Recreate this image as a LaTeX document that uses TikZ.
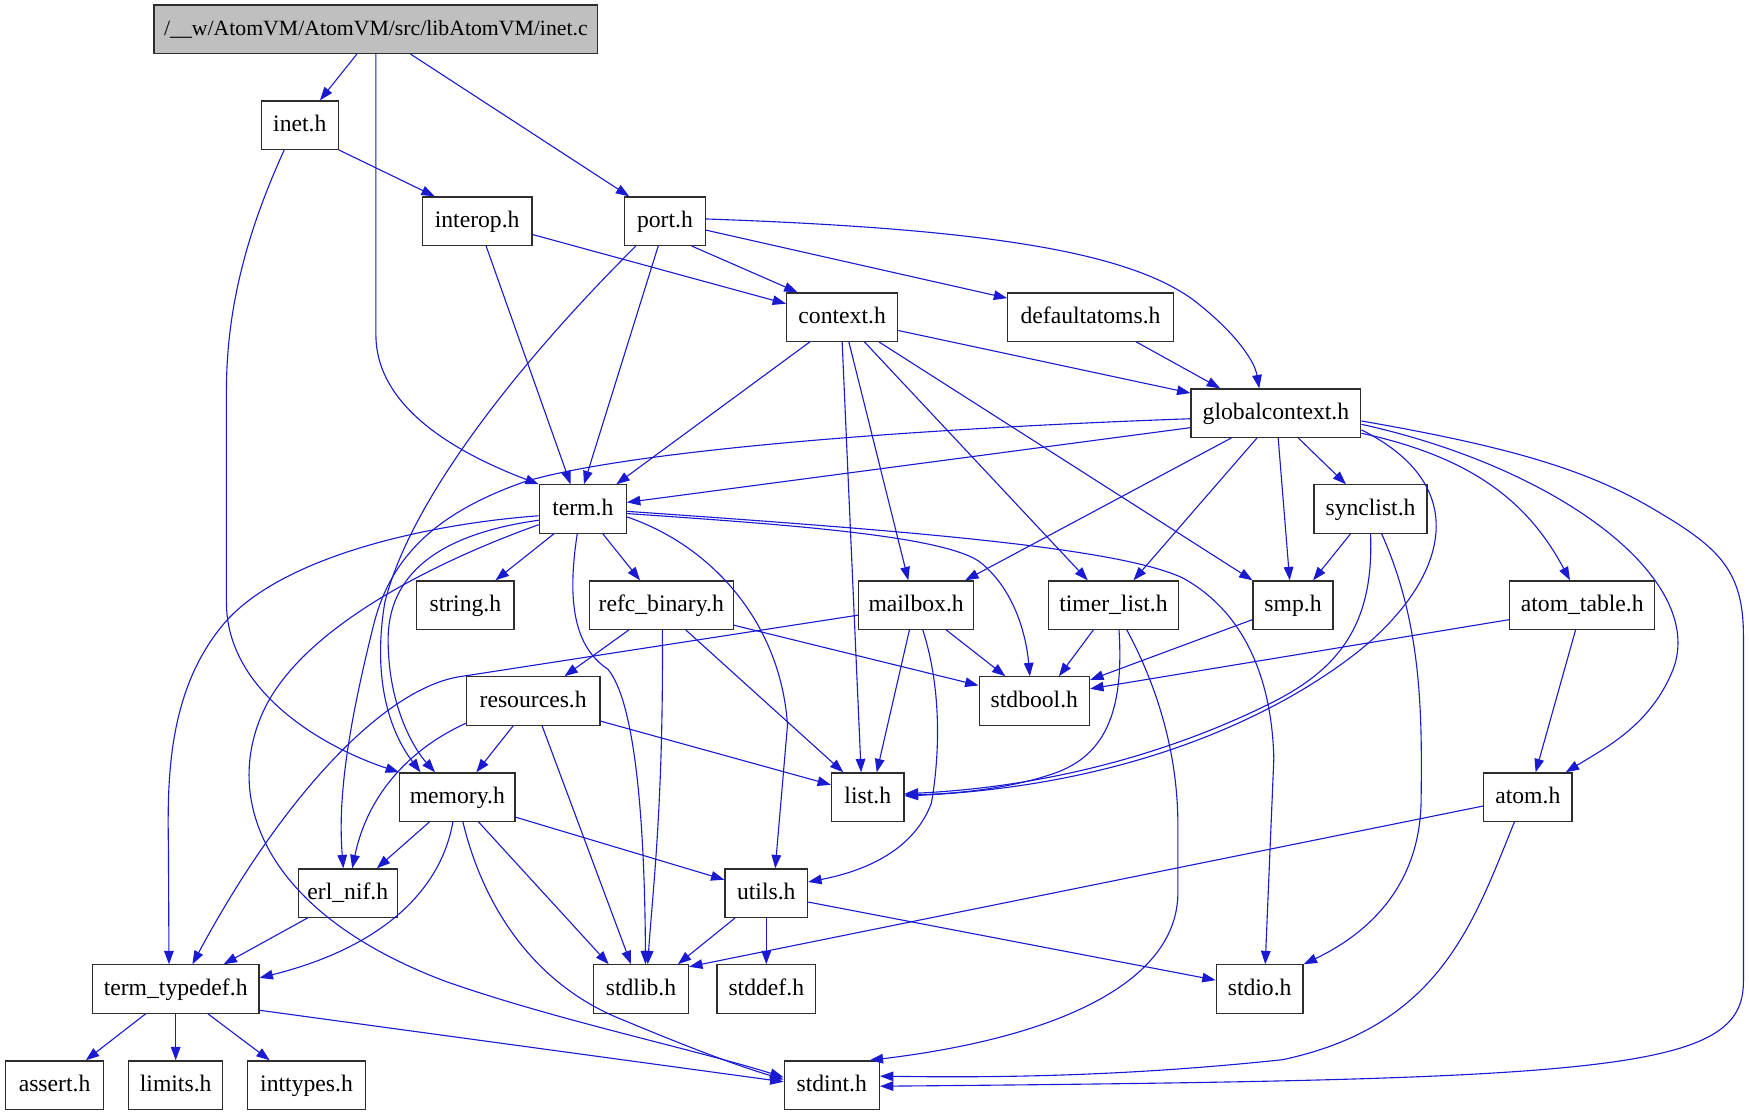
\documentclass[tikz,border=0pt]{standalone}
\usepackage{fontspec}
\setmainfont{Liberation Serif}
\usetikzlibrary{arrows.meta,calc}
\definecolor{eblue}{RGB}{26,26,210}
\definecolor{bord}{RGB}{45,45,45}
\definecolor{rootfill}{RGB}{191,191,191}
\tikzset{
  hdr/.style={draw=bord, line width=0.55pt, minimum height=21.7pt, inner sep=0pt,
    font=\fontsize{10.6}{12}\selectfont, text height=7pt, text depth=1.6pt, fill=white},
  rootbox/.style={hdr, fill=rootfill, font=\fontsize{9.75}{12}\selectfont},
  edge/.style={draw=eblue, line width=0.5pt, -{Triangle[length=6pt,width=4.3pt,fill=eblue]}}
}
\begin{document}
\begin{tikzpicture}[x=0.5pt,y=-0.5pt]
\useasboundingbox (0,0) rectangle (1568,1000);
% nodes
\node[rootbox, minimum width=199pt] (inetc) at (337,26.2) {/\_\_w/AtomVM/AtomVM/src/libAtomVM/inet.c};
\node[hdr, minimum width=34.5pt] (ineth) at (268.8,112.2) {inet.h};
\node[hdr, minimum width=49.2pt] (interop) at (427.8,198.3) {interop.h};
\node[hdr, minimum width=36.2pt] (port) at (596.1,198.3) {port.h};
\node[hdr, minimum width=49.8pt] (context) at (755,284.3) {context.h};
\node[hdr, minimum width=74.2pt] (defaultatoms) at (977.7,284.3) {defaultatoms.h};
\node[hdr, minimum width=76.1pt] (gctx) at (1143.9,370.4) {globalcontext.h};
\node[hdr, minimum width=39pt] (term) at (522.5,456.4) {term.h};
\node[hdr, minimum width=50.7pt] (synclist) at (1228.7,456.4) {synclist.h};
\node[hdr, minimum width=43.6pt] (string) at (417.2,542.5) {string.h};
\node[hdr, minimum width=64.6pt] (refc) at (592.8,542.5) {refc\_binary.h};
\node[hdr, minimum width=51.5pt] (mailbox) at (821.3,542.5) {mailbox.h};
\node[hdr, minimum width=58.5pt] (timer) at (998.2,542.5) {timer\_list.h};
\node[hdr, minimum width=35.8pt] (smp) at (1159.2,542.5) {smp.h};
\node[hdr, minimum width=64.9pt] (atomtable) at (1418.5,542.5) {atom\_table.h};
\node[hdr, minimum width=59.9pt] (resources) at (478,628.5) {resources.h};
\node[hdr, minimum width=49.5pt] (stdbool) at (927.3,628.5) {stdbool.h};
\node[hdr, minimum width=51.7pt] (memory) at (410,714.6) {memory.h};
\node[hdr, minimum width=32.5pt] (list) at (778,714.6) {list.h};
\node[hdr, minimum width=39.5pt] (atom) at (1369.7,714.6) {atom.h};
\node[hdr, minimum width=44.4pt] (erlnif) at (311.8,800.7) {erl\_nif.h};
\node[hdr, minimum width=37pt] (utils) at (687,800.7) {utils.h};
\node[hdr, minimum width=74.6pt] (termtypedef) at (157.5,886.7) {term\_typedef.h};
\node[hdr, minimum width=42.5pt] (stdlib) at (574.7,886.7) {stdlib.h};
\node[hdr, minimum width=44.2pt] (stddef) at (687,886.7) {stddef.h};
\node[hdr, minimum width=38.9pt] (stdio) at (1129.3,886.7) {stdio.h};
\node[hdr, minimum width=43.7pt] (assert) at (48.9,972.8) {assert.h};
\node[hdr, minimum width=42.2pt] (limits) at (157.5,972.8) {limits.h};
\node[hdr, minimum width=53pt] (inttypes) at (274.8,972.8) {inttypes.h};
\node[hdr, minimum width=42.7pt] (stdint) at (745.7,972.8) {stdint.h};
% edges from inet.c
\draw[edge] ($(inetc.south)+(-17,0)$) -- ($(ineth.north)+(18,0)$);
\draw[edge] (inetc.south) -- (337,300) .. controls (337,370) and (420,410) .. (term.north west);
\draw[edge] ($(inetc.south)+(31,0)$) -- ($(port.north)+(-32,0)$);
% inet.h
\draw[edge] (ineth.south east) -- ($(interop.north)+(-38,0)$);
\draw[edge] ($(ineth.south)+(-14,0)$) .. controls (225,200) and (203,270) .. (203,350) -- (203,540) .. controls (203,620) and (290,670) .. (memory.north west);
% interop.h
\draw[edge] ($(interop.east)+(0,12)$) -- ($(context.west)+(0,-12)$);
\draw[edge] ($(interop.south)+(8,0)$) -- ($(term.north)+(-11,0)$);
% port.h
\draw[edge] ($(port.south)+(24,0)$) -- ($(context.north)+(-40,0)$);
\draw[edge] ($(port.east)+(0,8)$) -- ($(defaultatoms.west)+(0,-17)$);
\draw[edge] ($(port.east)+(0,-2)$) .. controls (880,205) and (1010,225) .. (1070,269) .. controls (1110,300) and (1125,325) .. ($(gctx.north)+(-15,0)$);
\draw[edge] ($(port.south)+(-6,0)$) -- ($(term.north)+(1,0)$);
\draw[edge] ($(port.south)+(-26,0)$) .. controls (480,310) and (370,440) .. (345,540) .. controls (335,600) and (345,650) .. ($(memory.north)+(-33,0)$);
% context.h
\draw[edge] ($(context.east)+(0,12)$) -- ($(gctx.west)+(0,-18)$);
\draw[edge] ($(context.south)+(-29,0)$) -- ($(term.north)+(30,0)$);
\draw[edge] (context.south) -- ($(list.north)+(-6,0)$);
\draw[edge] ($(context.south)+(6,0)$) -- ($(mailbox.north)+(-7,0)$);
\draw[edge] ($(context.south)+(20,0)$) -- ($(timer.north)+(-23,0)$);
\draw[edge] ($(context.south)+(33,0)$) -- (smp.north west);
% defaultatoms.h
\draw[edge] ($(defaultatoms.south)+(41,0)$) -- ($(gctx.north)+(-50,0)$);
% globalcontext.h
\draw[edge] ($(gctx.west)+(0,13)$) -- ($(term.east)+(0,-6)$);
\draw[edge] ($(gctx.west)+(0,5)$) .. controls (800,385) and (560,405) .. (470,432) .. controls (390,460) and (350,500) .. (335,560) .. controls (310,660) and (303,720) .. ($(erlnif.north)+(-4,0)$);
\draw[edge] ($(gctx.south)+(-40,0)$) -- ($(mailbox.north)+(44,0)$);
\draw[edge] ($(gctx.south)+(-17,0)$) -- ($(timer.north)+(18,0)$);
\draw[edge] ($(gctx.south)+(2,0)$) -- ($(smp.north)+(-3,0)$);
\draw[edge] ($(gctx.south)+(20,0)$) -- ($(synclist.north)+(-22,0)$);
\draw[edge] ($(gctx.east)+(0,15)$) .. controls (1330,440) and (1290,530) .. (1210,590) .. controls (1130,650) and (1000,705) .. ($(list.east)+(0,-1)$);
\draw[edge] ($(gctx.east)+(0,18)$) .. controls (1320,410) and (1370,450) .. ($(atomtable.north)+(-11,0)$);
\draw[edge] ($(gctx.east)+(0,10)$) .. controls (1400,420) and (1530,520) .. (1500,600) .. controls (1480,650) and (1440,670) .. ($(atom.north)+(34,0)$);
\draw[edge] ($(gctx.east)+(0,7)$) .. controls (1350,400) and (1420,420) .. (1480,455) .. controls (1540,490) and (1563,510) .. (1563,570) -- (1563,880) .. controls (1563,960) and (1450,968) .. ($(stdint.east)+(0,1)$);
% term.h
\draw[edge] ($(term.south)+(-26,0)$) -- ($(string.north)+(27,0)$);
\draw[edge] ($(term.south)+(18,0)$) -- ($(refc.north)+(-19,0)$);
\draw[edge] ($(term.east)+(0,4)$) .. controls (700,470) and (850,480) .. (880,505) .. controls (910,530) and (920,570) .. ($(stdbool.north)+(-4,0)$);
\draw[edge] ($(term.east)+(0,2)$) .. controls (800,475) and (1000,490) .. (1060,518) .. controls (1110,545) and (1140,600) .. (1142,680) -- ($(stdio.north)+(5,0)$);
\draw[edge] ($(term.east)+(0,7)$) .. controls (640,490) and (700,560) .. (706,650) -- ($(utils.north)+(8,0)$);
\draw[edge] ($(term.south)+(-5,0)$) .. controls (508,540) and (515,580) .. (545,600) .. controls (570,630) and (578,740) .. ($(stdlib.north)+(4,0)$);
\draw[edge] ($(term.west)+(0,10)$) .. controls (400,478) and (350,510) .. (348,570) .. controls (347,630) and (370,670) .. ($(memory.north)+(-20,0)$);
\draw[edge] ($(term.west)+(0,6)$) .. controls (380,470) and (250,500) .. (200,560) .. controls (150,620) and (150,700) .. (151,760) -- ($(termtypedef.north)+(-6,0)$);
\draw[edge] ($(term.west)+(0,14)$) .. controls (400,500) and (270,560) .. (235,640) .. controls (200,720) and (240,820) .. (400,880) .. controls (500,915) and (620,940) .. ($(stdint.west)+(0,-7)$);
% synclist.h
\draw[edge] ($(synclist.south)+(-18,0)$) -- ($(smp.north)+(18,0)$);
\draw[edge] (synclist.south) .. controls (1232,560) and (1200,600) .. (1140,630) .. controls (1060,670) and (950,705) .. ($(list.east)+(0,-3)$);
\draw[edge] ($(synclist.south)+(10,0)$) .. controls (1275,560) and (1275,640) .. (1274,720) .. controls (1272,800) and (1220,840) .. (stdio.north east);
% refc_binary.h
\draw[edge] ($(refc.south)+(-29,0)$) -- ($(resources.north)+(28,0)$);
\draw[edge] ($(refc.south)+(1,0)$) .. controls (595,720) and (585,800) .. ($(stdlib.north)+(6,0)$);
\draw[edge] ($(refc.south)+(22,0)$) -- ($(list.north)+(-22,0)$);
\draw[edge] ($(refc.east)+(0,18)$) -- ($(stdbool.west)+(0,-14)$);
% mailbox.h
\draw[edge] ($(mailbox.south)+(-6,0)$) -- ($(list.north)+(8,0)$);
\draw[edge] ($(mailbox.south)+(27,0)$) -- ($(stdbool.north)+(-26,0)$);
\draw[edge] ($(mailbox.south)+(6,0)$) .. controls (845,620) and (842,680) .. (835,720) .. controls (820,760) and (780,780) .. ($(utils.east)+(0,-10)$);
\draw[edge] ($(mailbox.west)+(0,9)$) -- (410,607) .. controls (340,620) and (250,720) .. ($(termtypedef.north)+(15,0)$);
% timer_list.h
\draw[edge] ($(timer.south)+(-18,0)$) -- ($(stdbool.north)+(22,0)$);
\draw[edge] ($(timer.south)+(5,0)$) .. controls (1008,640) and (990,680) .. (940,695) .. controls (900,708) and (850,712) .. ($(list.east)+(0,-2)$);
\draw[edge] ($(timer.south)+(12,0)$) .. controls (1040,620) and (1056,680) .. (1056,740) -- (1056,800) .. controls (1056,880) and (950,930) .. ($(stdint.north)+(34,0)$);
% smp.h
\draw[edge] ($(smp.west)+(0,13)$) -- ($(stdbool.east)+(0,-19)$);
% atom_table.h
\draw[edge] ($(atomtable.west)+(0,13)$) -- ($(stdbool.east)+(0,-11)$);
\draw[edge] ($(atomtable.south)+(-6,0)$) -- ($(atom.north)+(7,0)$);
% atom.h
\draw[edge] ($(atom.west)+(0,8)$) -- ($(stdlib.east)+(0,-20)$);
\draw[edge] ($(atom.south)+(-12,0)$) .. controls (1320,830) and (1290,920) .. (1150,950) .. controls (1000,966) and (880,966) .. ($(stdint.east)+(0,-8)$);
% resources.h
\draw[edge] ($(resources.south)+(-18,0)$) -- ($(memory.north)+(17,0)$);
\draw[edge] ($(resources.west)+(0,20)$) .. controls (370,670) and (330,710) .. ($(erlnif.north)+(4,0)$);
\draw[edge] ($(resources.south)+(8,0)$) -- ($(stdlib.north)+(-9,0)$);
\draw[edge] ($(resources.east)+(0,18)$) -- ($(list.west)+(0,-11)$);
% memory.h
\draw[edge] ($(memory.south)+(-25,0)$) -- ($(erlnif.north)+(26,0)$);
\draw[edge] ($(memory.east)+(0,18)$) -- ($(utils.west)+(0,-12)$);
\draw[edge] ($(memory.south)+(19,0)$) -- ($(stdlib.north)+(-29,0)$);
\draw[edge] ($(memory.south)+(-4,0)$) .. controls (395,800) and (340,850) .. ($(termtypedef.east)+(0,-10)$);
\draw[edge] ($(memory.south)+(5,0)$) .. controls (430,800) and (470,880) .. (560,915) .. controls (620,940) and (660,955) .. ($(stdint.west)+(0,-5)$);
% erl_nif.h
\draw[edge] ($(erlnif.south)+(-36,0)$) -- ($(termtypedef.north)+(43,0)$);
% utils.h
\draw[edge] ($(utils.south)+(-28,0)$) -- ($(stdlib.north)+(33,0)$);
\draw[edge] (utils.south) -- (stddef.north);
\draw[edge] ($(utils.east)+(0,8)$) -- ($(stdio.west)+(0,-8)$);
% term_typedef.h
\draw[edge] ($(termtypedef.south)+(-27,0)$) -- ($(assert.north)+(28,0)$);
\draw[edge] (termtypedef.south) -- (limits.north);
\draw[edge] ($(termtypedef.south)+(29,0)$) -- ($(inttypes.north)+(-33,0)$);
\draw[edge] ($(termtypedef.east)+(0,19)$) -- ($(stdint.west)+(0,-3)$);
\end{tikzpicture}
\end{document}
